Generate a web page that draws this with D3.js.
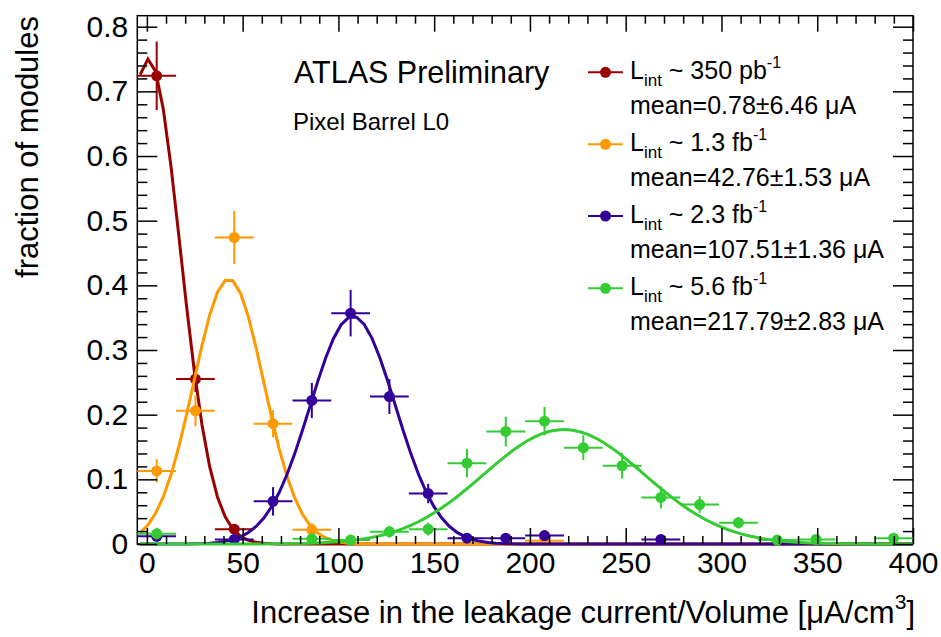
<!DOCTYPE html>
<html>
<head>
<meta charset="utf-8">
<script src="https://cdn.jsdelivr.net/npm/d3@7"></script>
<style>
  body { margin: 0; background: #fff; }
  text { font-family: "Liberation Sans", Arial, Helvetica, sans-serif; fill: #000; }
</style>
</head>
<body>
<div id="chart"></div>
<script>
// histogram bins (20 bins from -5 to 400)
var binCenters = [5.125, 25.375, 45.625, 65.875, 86.125, 106.375, 126.625, 146.875, 167.125, 187.375,
                  207.625, 227.875, 248.125, 268.375, 288.625, 308.875, 329.125, 349.375, 369.625, 389.875];
var binHalfWidth = 10.125;

// fraction of modules per bin, and errors
var redVals    = [0.724, 0.255, 0.023, 0, 0, 0, 0, 0, 0, 0, 0, 0, 0, 0, 0, 0, 0, 0, 0, 0];
var redErrs    = [0.053, 0.020, 0.008, 0, 0, 0, 0, 0, 0, 0, 0, 0, 0, 0, 0, 0, 0, 0, 0, 0];
var orangeVals = [0.113, 0.206, 0.474, 0.186, 0.022, 0, 0, 0, 0, 0, 0.005, 0, 0, 0, 0, 0, 0, 0, 0, 0];
var orangeErrs = [0.018, 0.024, 0.041, 0.021, 0.010, 0, 0, 0, 0, 0, 0.004, 0, 0, 0, 0, 0, 0, 0, 0, 0];
var purpleVals = [0.012, 0, 0.007, 0.066, 0.222, 0.357, 0.228, 0.078, 0.009, 0.009, 0.013, 0, 0, 0.007, 0, 0, 0, 0, 0, 0];
var purpleErrs = [0.008, 0, 0.006, 0.022, 0.027, 0.036, 0.027, 0.015, 0.006, 0.006, 0.008, 0, 0, 0.006, 0, 0, 0, 0, 0, 0];
var greenVals  = [0.016, 0, 0, 0, 0.008, 0.006, 0.019, 0.023, 0.125, 0.174, 0.190, 0.149, 0.121, 0.072, 0.061, 0.033, 0.006, 0.007, 0, 0.009];
var greenErrs  = [0.009, 0, 0, 0, 0.007, 0.006, 0.009, 0.010, 0.022, 0.023, 0.022, 0.019, 0.020, 0.017, 0.013, 0.009, 0.006, 0.006, 0, 0.007];

// gaussian fit parameters (amplitude, mean, sigma)
var fitAmp   = [0.750, 0.410, 0.352, 0.177];
var fitMean  = [0.78, 42.76, 107.51, 217.79];
var fitSigma = [16.7, 18.4, 22.3, 42.0];

var lumiValues = ["350 pb", "1.3 fb", "2.3 fb", "5.6 fb"];
var meanLabels = ["mean=0.78\u00B16.46 \u03BCA", "mean=42.76\u00B11.53 \u03BCA",
                  "mean=107.51\u00B11.36 \u03BCA", "mean=217.79\u00B12.83 \u03BCA"];
var colors = ["#990000", "#ff9900", "#330099", "#33cc33"];

var xMajor = [0, 50, 100, 150, 200, 250, 300, 350, 400];
var yMajor = [0, 0.1, 0.2, 0.3, 0.4, 0.5, 0.6, 0.7, 0.8];

var width = 941, height = 637;
var svg = d3.select("#chart").append("svg")
  .attr("width", width)
  .attr("height", height);

var x = d3.scaleLinear().domain([-5, 400]).range([137.3, 913]);
var y = d3.scaleLinear().domain([0, 0.817]).range([544, 15.7]);

// frame
svg.append("rect")
  .attr("x", x(-5)).attr("y", y(0.817))
  .attr("width", x(400) - x(-5)).attr("height", y(0) - y(0.817))
  .attr("fill", "none").attr("stroke", "#000").attr("stroke-width", 1.5);

var series = [
  { vals: redVals, errs: redErrs },
  { vals: orangeVals, errs: orangeErrs },
  { vals: purpleVals, errs: purpleErrs },
  { vals: greenVals, errs: greenErrs }
];

var line = d3.line().x(function(d) { return x(d[0]); }).y(function(d) { return y(d[1]); });
var samples = d3.range(0, 101).map(function(i) { return -3.5 + i * 4.035; });

series.forEach(function(s, k) {
  var g = svg.append("g");
  var curve = samples.map(function(v) {
    return [v, fitAmp[k] * Math.exp(-Math.pow(v - fitMean[k], 2) / (2 * fitSigma[k] * fitSigma[k]))];
  });
  g.append("path")
    .attr("d", line(curve))
    .attr("fill", "none")
    .attr("stroke", colors[k])
    .attr("stroke-width", 3);

  var pts = binCenters.map(function(c, i) { return { c: c, v: s.vals[i], e: s.errs[i] }; })
    .filter(function(d) { return d.v > 0; });

  g.selectAll(".hbar").data(pts).enter().append("line")
    .attr("x1", function(d) { return x(d.c - binHalfWidth); })
    .attr("x2", function(d) { return x(d.c + binHalfWidth); })
    .attr("y1", function(d) { return y(d.v); })
    .attr("y2", function(d) { return y(d.v); })
    .attr("stroke", colors[k]).attr("stroke-width", 2);
  g.selectAll(".vbar").data(pts).enter().append("line")
    .attr("x1", function(d) { return x(d.c); })
    .attr("x2", function(d) { return x(d.c); })
    .attr("y1", function(d) { return y(d.v - d.e); })
    .attr("y2", function(d) { return y(d.v + d.e); })
    .attr("stroke", colors[k]).attr("stroke-width", 2);
  g.selectAll("circle").data(pts).enter().append("circle")
    .attr("cx", function(d) { return x(d.c); })
    .attr("cy", function(d) { return y(d.v); })
    .attr("r", 5.5)
    .attr("fill", colors[k]);
});

// axes (ticks inside, mirrored)
var xMinor = d3.range(0, 401, 10).filter(function(v) { return v % 50 !== 0; });
var yMinor = d3.range(0, 41).map(function(i) { return i * 0.02; })
  .filter(function(v) { return Math.abs(Math.round(v * 10) - v * 10) > 1e-6; });

function addAxis(axis, transform, labels) {
  var a = svg.append("g").attr("transform", transform).call(axis);
  a.select(".domain").remove();
  a.selectAll("line").attr("stroke", "#000").attr("stroke-width", 1.5);
  if (!labels) a.selectAll("text").remove();
  return a;
}

var xb = addAxis(d3.axisBottom(x).tickValues(xMajor).tickSize(-16).tickPadding(8), "translate(0,544)", true);
xb.selectAll("text").attr("font-size", 30).attr("font-family", "Liberation Sans, Arial, sans-serif");
addAxis(d3.axisBottom(x).tickValues(xMinor).tickSize(-8), "translate(0,544)", false);
addAxis(d3.axisTop(x).tickValues(xMajor).tickSize(-16), "translate(0," + y(0.817) + ")", false);
addAxis(d3.axisTop(x).tickValues(xMinor).tickSize(-8), "translate(0," + y(0.817) + ")", false);

var yl = addAxis(d3.axisLeft(y).tickValues(yMajor).tickSize(-20).tickPadding(9)
  .tickFormat(function(d) { return d === 0 ? "0" : d3.format(".1f")(d); }), "translate(" + x(-5) + ",0)", true);
yl.selectAll("text").attr("font-size", 30).attr("font-family", "Liberation Sans, Arial, sans-serif");
addAxis(d3.axisLeft(y).tickValues(yMinor).tickSize(-10), "translate(" + x(-5) + ",0)", false);
addAxis(d3.axisRight(y).tickValues(yMajor).tickSize(-20), "translate(" + x(400) + ",0)", false);
addAxis(d3.axisRight(y).tickValues(yMinor).tickSize(-10), "translate(" + x(400) + ",0)", false);

// axis titles
var xt = svg.append("text")
  .attr("x", 915).attr("y", 623)
  .attr("text-anchor", "end")
  .attr("font-size", 31);
xt.append("tspan").text("Increase in the leakage current/Volume [\u03BCA/cm");
xt.append("tspan").attr("font-size", 21).attr("dy", -14).text("3");
xt.append("tspan").attr("dy", 14).text("]");

svg.append("text")
  .attr("transform", "translate(38,16) rotate(-90)")
  .attr("text-anchor", "end")
  .attr("font-size", 31)
  .text("fraction of modules");

// labels
svg.append("text").attr("x", 294).attr("y", 83).attr("font-size", 30.5).text("ATLAS Preliminary");
svg.append("text").attr("x", 293).attr("y", 130).attr("font-size", 24).text("Pixel Barrel L0");

// legend
var rowY = [72.3, 144.3, 216, 288.3];
rowY.forEach(function(ry, k) {
  var g = svg.append("g");
  g.append("line").attr("x1", 588).attr("x2", 623).attr("y1", ry).attr("y2", ry)
    .attr("stroke", colors[k]).attr("stroke-width", 2);
  g.append("circle").attr("cx", 605.5).attr("cy", ry).attr("r", 5.5).attr("fill", colors[k]);
  var t = g.append("text").attr("x", 630).attr("y", ry + 7).attr("font-size", 25);
  t.append("tspan").text("L");
  t.append("tspan").attr("font-size", 17).attr("dy", 7).text("int");
  t.append("tspan").attr("dy", -7).text(" ~ " + lumiValues[k]);
  t.append("tspan").attr("font-size", 16).attr("dy", -11).text("-1");
  g.append("text").attr("x", 630).attr("y", ry + 42).attr("font-size", 25).text(meanLabels[k]);
});
</script>
</body>
</html>
